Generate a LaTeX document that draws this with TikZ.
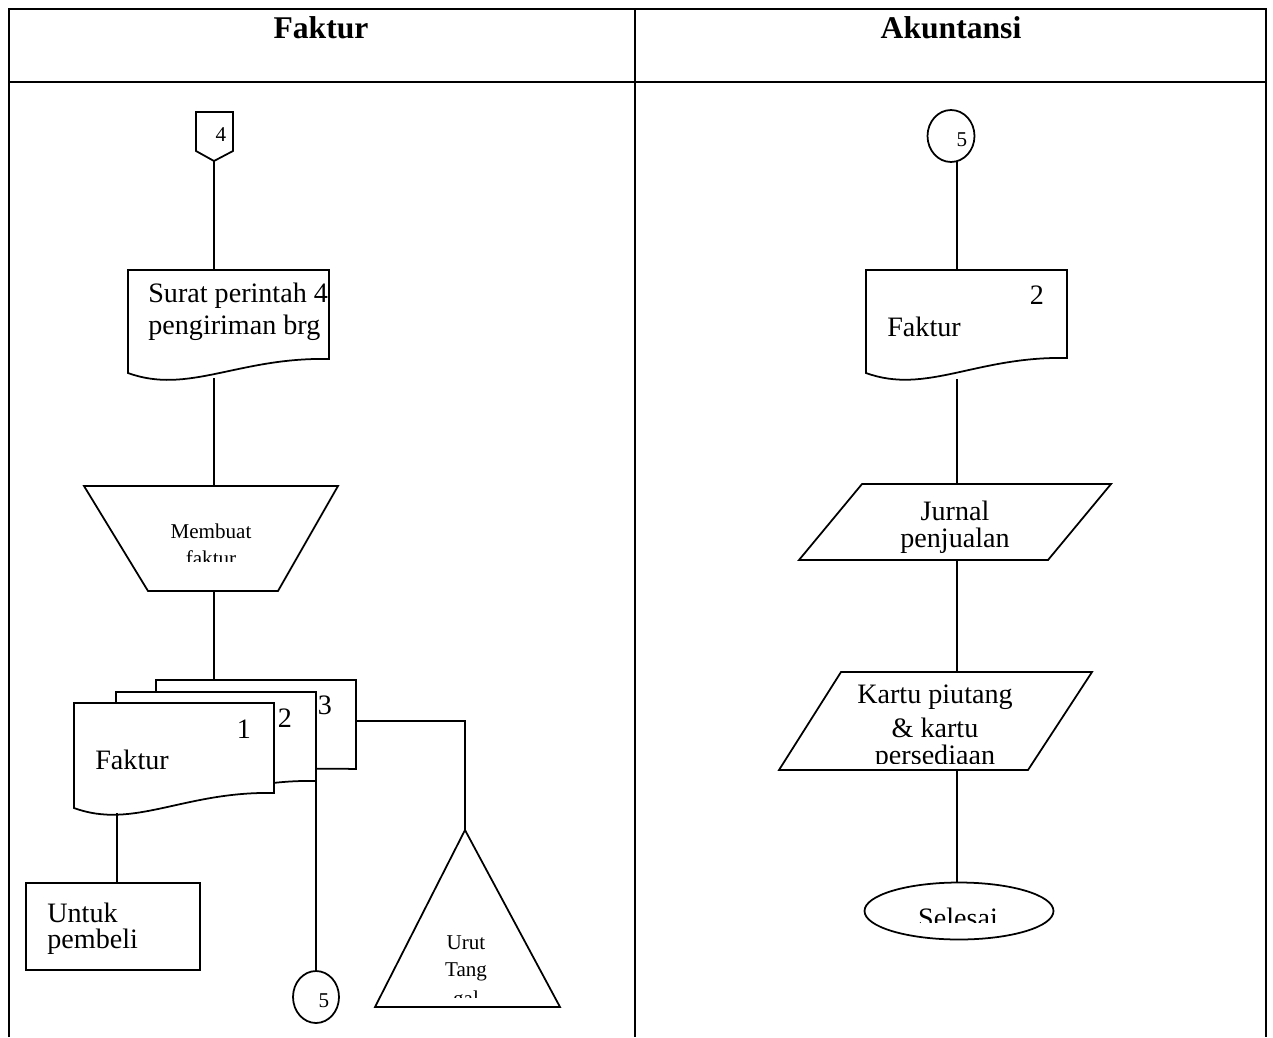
\documentclass[tikz,border=0pt]{standalone}
\usepackage{fontspec}
\setmainfont{Liberation Serif}
\usetikzlibrary{shapes.geometric}
\tikzset{
  shp/.style={draw=black, line width=1pt, fill=white, line join=miter},
  conn/.style={draw=black, line width=1pt},
  grid/.style={draw=black, line width=1.1pt},
  bigtxt/.style={font=\fontsize{16}{18}\selectfont, inner sep=0pt},
  smalltxt/.style={font=\fontsize{12}{14}\selectfont, inner sep=0pt},
  headtxt/.style={font=\fontsize{18}{20}\selectfont\bfseries, inner sep=0pt},
}
\newcommand\flowdoc[5]{%
  \filldraw[shp] (#1,#3) -- (#2,#3) -- (#2,#5)
    .. controls ({#1+0.55*(#2-#1)},{#5-2}) and ({#1+0.3*(#2-#1)},{#4+22}) .. (#1,#4) -- cycle;}
\begin{document}
\begin{tikzpicture}[x=0.02cm,y=-0.02cm]
\useasboundingbox (0,0) rectangle (1273,1037);
\fill[white] (0,0) rectangle (1273,1037);
% table
\draw[grid] (9,1037) -- (9,9) -- (1266,9) -- (1266,1037);
\draw[grid] (635,9) -- (635,1037);
\draw[grid] (9,82) -- (1266,82);
\node[headtxt] (h1) at (321,28) {Faktur};
\node[headtxt] (h2) at (951,28) {Akuntansi};

% ---------- left column ----------
% off-page connector 4
\filldraw[shp] (196,112) -- (233,112) -- (233,151) -- (214,161) -- (196,151) -- cycle;
\coordinate (op4b) at (214,161);
\node[smalltxt] (t4) at (221,135) {4};

% document A
\flowdoc{128}{329}{270}{373}{359}
\coordinate (dAt) at (214,270);
\coordinate (dAb) at (214,378);
\node[bigtxt, anchor=west] (tA1) at (148,296) {Surat perintah 4};
\node[bigtxt, anchor=west] (tA2) at (148,328) {pengiriman brg};

% trapezoid
\filldraw[shp] (84,486) -- (338,486) -- (278,591) -- (148,591) -- cycle;
\coordinate (trt) at (214,486);
\coordinate (trb) at (214,591);
\node[smalltxt] (tM1) at (211,531) {Membuat};
\begin{scope}
\clip (100,540) rectangle (320,561);
\node[smalltxt] (tM2) at (211,558) {faktur};
\end{scope}

% stacked documents
\flowdoc{156}{356}{680}{756}{769}
\flowdoc{116}{316}{692}{795}{781}
\flowdoc{74}{274}{703}{808}{793}
\coordinate (d3t) at (214,680);
\coordinate (d3r) at (356,721);
\coordinate (d2b) at (316,781);
\coordinate (d1b) at (117,813);
\node[bigtxt] (n3) at (325,705) {3};
\node[bigtxt] (n2) at (285,718) {2};
\node[bigtxt] (n1) at (244,729) {1};
\node[bigtxt, anchor=west] (tF) at (95,760) {Faktur};

% rectangle
\filldraw[shp] (26,883) rectangle (200,970);
\coordinate (rt) at (117,883);
\node[bigtxt, anchor=west] (tU1) at (47,913) {Untuk};
\node[bigtxt, anchor=west] (tU2) at (47,942) {pembeli};

% circle 5 bottom
\node[shp, ellipse, minimum width=0.92cm, minimum height=1.04cm, inner sep=0pt] (c5a) at (316,997) {};
\node[smalltxt] (t5a) at (324,1001) {5};

% triangle
\filldraw[shp] (465,830) -- (560,1007) -- (375,1007) -- cycle;
\coordinate (tra) at (465,830);
\coordinate (corner) at (465,721);
\node[smalltxt] (tR1) at (466,943) {Urut};
\node[smalltxt] (tR2) at (466,972) {Tang};
\begin{scope}
\clip (400,985) rectangle (530,997);
\node[smalltxt] (tR3) at (466,1000) {gal};
\end{scope}

% left connectors
\draw[conn] (op4b) -- (dAt);
\draw[conn] (dAb) -- (trt);
\draw[conn] (trb) -- (d3t);
\draw[conn] (d3r) -- (corner) -- (tra);
\draw[conn] (d2b) -- (c5a.north);
\draw[conn] (d1b) -- (rt);

% ---------- right column ----------
\node[shp, ellipse, minimum width=0.94cm, minimum height=1.04cm, inner sep=0pt] (c5b) at (951,136) {};
\node[smalltxt] (t5b) at (962,140) {5};
\coordinate (c5bb) at (957,161);

\flowdoc{866}{1067}{270}{373}{358}
\coordinate (dBt) at (957,270);
\coordinate (dBb) at (957,379);
\node[bigtxt] (nB) at (1037,295) {2};
\node[bigtxt, anchor=west] (tFB) at (887,327) {Faktur};

% parallelogram 1
\filldraw[shp] (862,484) -- (1111,484) -- (1048,560) -- (799,560) -- cycle;
\coordinate (p1t) at (957,484);
\coordinate (p1b) at (957,560);
\node[bigtxt] (tJ1) at (955,511) {Jurnal};
\node[bigtxt] (tJ2) at (955,541) {penjualan};

% parallelogram 2
\filldraw[shp] (841,672) -- (1092,672) -- (1028,770) -- (779,770) -- cycle;
\coordinate (p2t) at (957,672);
\coordinate (p2b) at (957,770);
\node[bigtxt] (tK1) at (935,697) {Kartu piutang};
\node[bigtxt] (tK2) at (935,728) {\& kartu};
\begin{scope}
\clip (820,740) rectangle (1050,763);
\node[bigtxt] (tK3) at (935,758) {persediaan};
\end{scope}

% terminator
\node[shp, ellipse, minimum width=3.78cm, minimum height=1.14cm, inner sep=0pt] (sel) at (959,911) {};
\begin{scope}
\clip (880,895) rectangle (1040,922);
\node[bigtxt] (tS) at (958,918) {Selesai};
\end{scope}

% right connectors
\draw[conn] (c5bb) -- (dBt);
\draw[conn] (dBb) -- (p1t);
\draw[conn] (p1b) -- (p2t);
\draw[conn] (p2b) -- (sel.north -| p2b);
\end{tikzpicture}
\end{document}
